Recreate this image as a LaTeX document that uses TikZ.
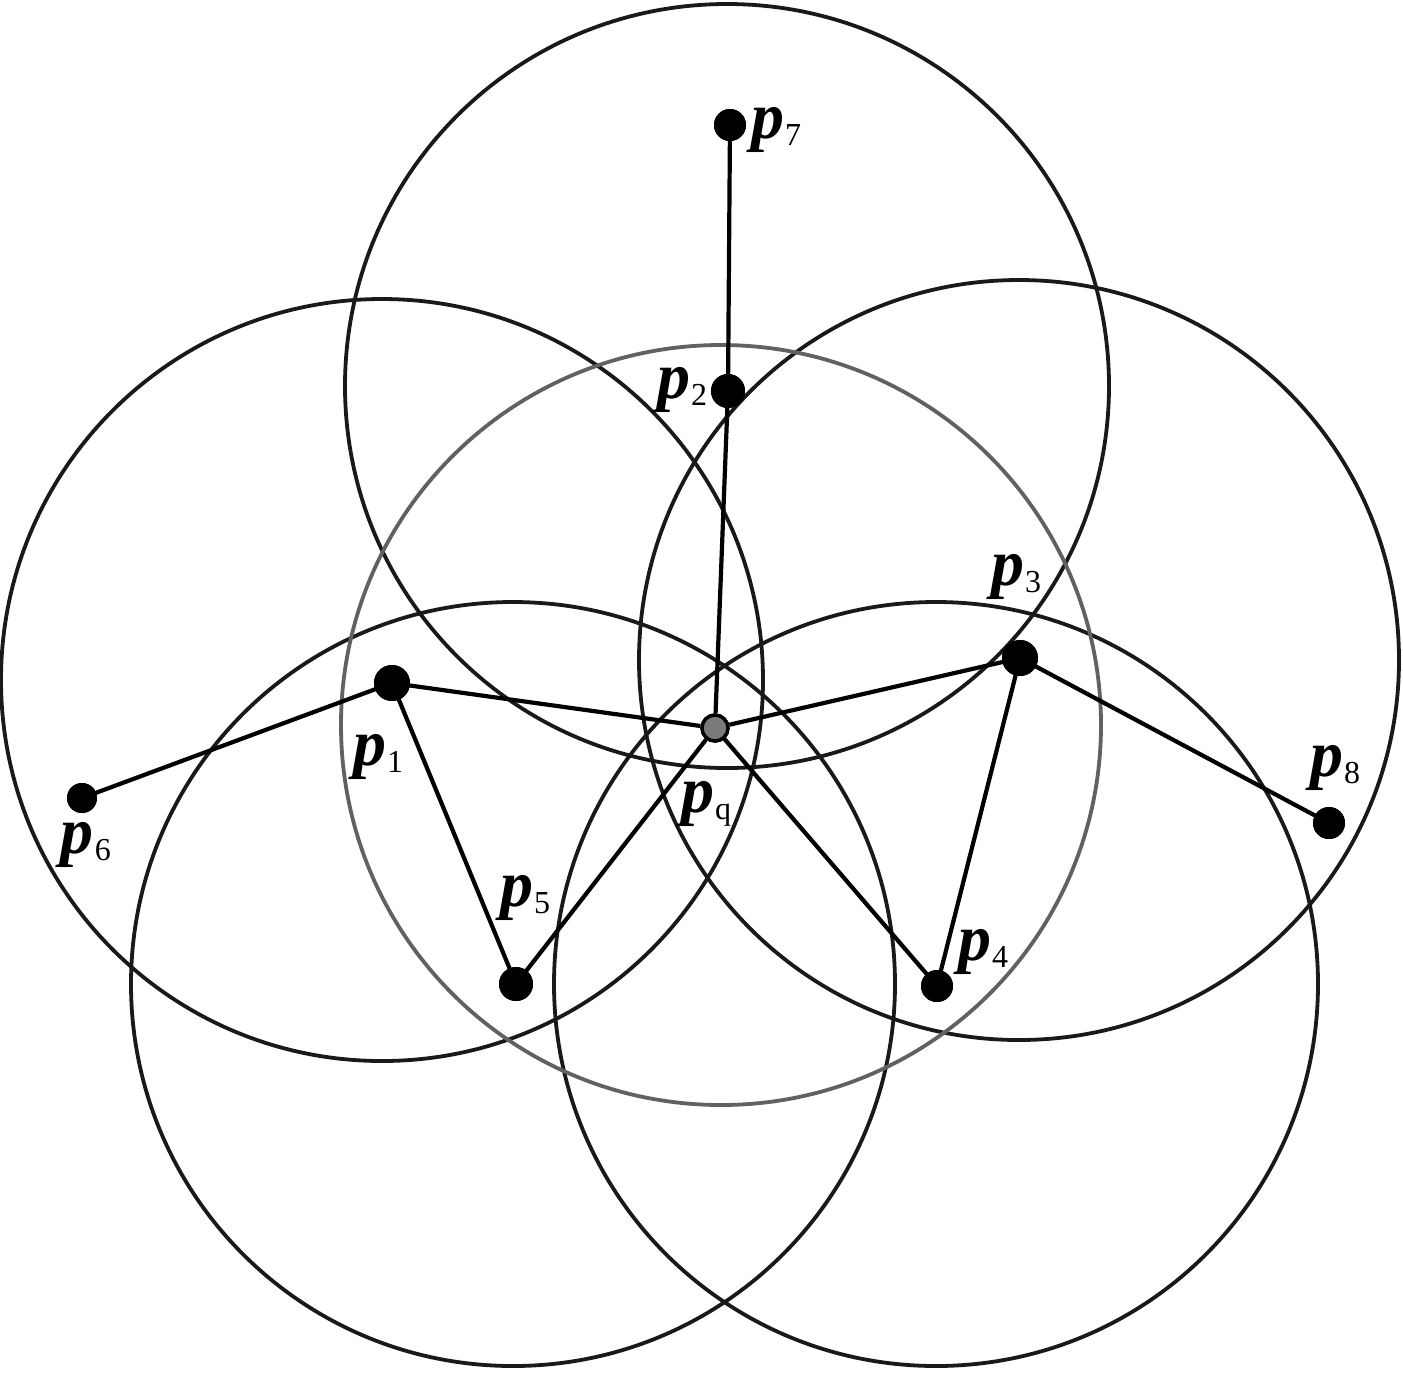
\documentclass[tikz,border=0pt]{standalone}
\usepackage{fontspec}
\setmainfont{Liberation Serif}
\newcommand\plab[1]{\textbf{\textit{p}}\kern0.5pt\raisebox{-3.5pt}{\fontsize{16}{16}\selectfont #1}}
\begin{document}
\begin{tikzpicture}[x=0.5pt,y=-0.5pt,
  ring/.style={line width=1.9pt, draw=black!90},
  grayring/.style={line width=1.9pt, draw=black!62},
  edge/.style={line width=2.1pt, black},
  dot/.style={circle, fill=black, inner sep=0pt, minimum size=#1},
  qdot/.style={circle, fill=black!52, draw=black, line width=1.7pt, inner sep=0pt, minimum size=13pt},
  lbl/.style={inner sep=0pt, font=\fontsize{33}{34}\selectfont}]
\useasboundingbox (0,0) rectangle (1403,1373);
% circles
\draw[ring] (727,386) circle[radius=382];
\draw[ring] (382,680) circle[radius=381];
\draw[ring] (1019,660) circle[radius=380];
\draw[ring] (513,984) circle[radius=382];
\draw[ring] (936,984) circle[radius=382];
\draw[grayring] (721,725) circle[radius=380];
% points
\node[dot=16pt] (p7) at (730,125) {};
\node[dot=17pt] (p2) at (728,391) {};
\node[dot=18pt] (p3) at (1020,658) {};
\node[dot=18pt] (p1) at (392,683) {};
\node[dot=15pt] (p6) at (82,798) {};
\node[dot=16pt] (p8) at (1329,823) {};
\node[dot=17pt] (p5) at (516,984) {};
\node[dot=16pt] (p4) at (937,986) {};
\node[qdot] (pq) at (715,728) {};
% edges
\draw[edge] (p7.center) -- (p2.center);
\draw[edge] (p2.center) -- (pq);
\draw[edge] (p1.center) -- (pq);
\draw[edge] (p3.center) -- (pq);
\draw[edge] (p5.center) -- (pq);
\draw[edge] (p4.center) -- (pq);
\draw[edge] (p6.center) -- (p1.center);
\draw[edge] (p1.center) -- (p5.center);
\draw[edge] (p3.center) -- (p4.center);
\draw[edge] (p3.center) -- (p8.center);
% redraw dots on top
\foreach \n/\s in {p7/16pt,p2/17pt,p3/18pt,p1/18pt,p6/15pt,p8/16pt,p5/17pt,p4/16pt}
  \fill[black] (\n.center) circle[radius=\s/2];
\node[qdot] at (pq.center) {};
% labels
\node[lbl] (l7) at (776,130) {\plab{7}};
\node[lbl] (l2) at (682,390) {\plab{2}};
\node[lbl] (l3) at (1016,577) {\plab{3}};
\node[lbl] (l1) at (378,757) {\plab{1}};
\node[lbl] (l6) at (86,845) {\plab{6}};
\node[lbl] (l8) at (1335,768) {\plab{8}};
\node[lbl] (lq) at (706,804) {\plab{q}};
\node[lbl] (l5) at (525,898) {\plab{5}};
\node[lbl] (l4) at (983,952) {\plab{4}};
\end{tikzpicture}
\end{document}
